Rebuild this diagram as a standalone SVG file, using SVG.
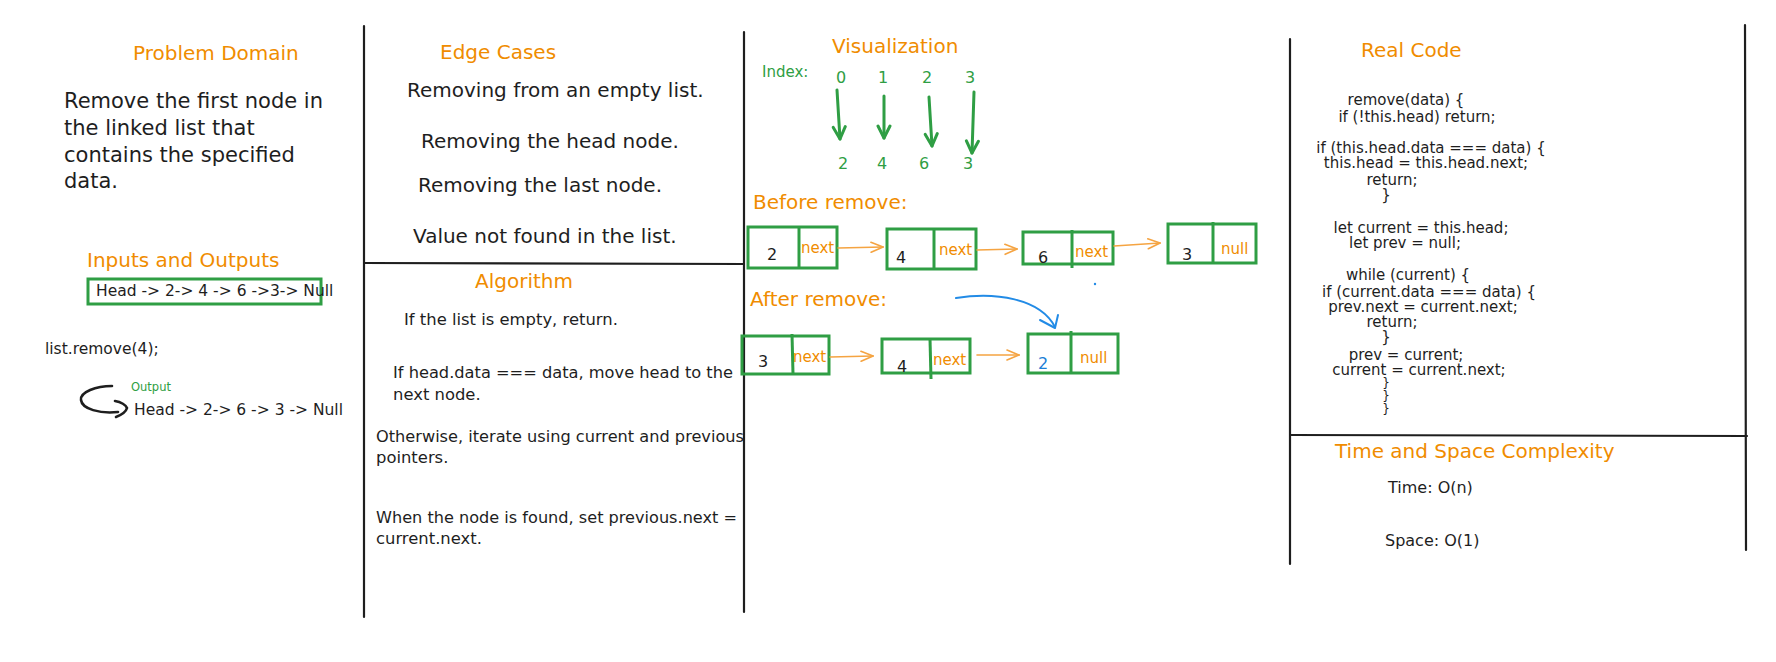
<svg xmlns="http://www.w3.org/2000/svg" width="1776" height="662" viewBox="0 0 1776 662">
<defs>
<style>
text{font-family:"DejaVu Sans","Liberation Sans",sans-serif;fill:#1e1e1e}
.title{font-size:20px;fill:#f08c00}
.body{font-size:20px}
.pd{font-size:21px}
.alg{font-size:16.4px}
.small{font-size:15.5px}
.code{font-size:15px;text-anchor:middle}
.brace{font-size:12px;text-anchor:middle}
.green{fill:#2f9e44}
.divider{stroke:#1e1e1e;stroke-width:2.2;fill:none;stroke-linecap:round}
.box{stroke:#2f9e44;stroke-width:3;fill:none}
.garrow{stroke:#2f9e44;stroke-width:3;fill:none;stroke-linecap:round}
.oarrow{stroke:#f5a442;stroke-width:1.6;fill:none;stroke-linecap:round}
.num{font-size:16px}
.ptr{font-size:15px;fill:#f08c00}
</style>
<marker id="mg" viewBox="0 0 16 16" refX="14" refY="8" markerWidth="16" markerHeight="16" markerUnits="userSpaceOnUse" orient="auto">
<path d="M2,2 L14,8 L2,14" fill="none" stroke="#2f9e44" stroke-width="3" stroke-linecap="round" stroke-linejoin="round"/>
</marker>
<marker id="mo" viewBox="0 0 14 14" refX="13" refY="7" markerWidth="14" markerHeight="14" markerUnits="userSpaceOnUse" orient="auto">
<path d="M1,2 L13,7 L1,12" fill="none" stroke="#f5a442" stroke-width="1.6" stroke-linecap="round"/>
</marker>
</defs>
<rect width="1776" height="662" fill="#ffffff"/>

<g id="frame">
<line class="divider" x1="364" y1="26" x2="364" y2="617"/>
<line class="divider" x1="744" y1="32" x2="744" y2="612"/>
<line class="divider" x1="1290" y1="39" x2="1290" y2="564"/>
<line class="divider" x1="1745" y1="25" x2="1746" y2="550"/>
<line class="divider" x1="364" y1="263" x2="744" y2="264"/>
<line class="divider" x1="1290" y1="435" x2="1747" y2="436"/>
</g>

<g id="problem-domain">
<text class="title" x="133" y="60">Problem Domain</text>
<text class="pd" x="64" y="108">Remove the first node in</text>
<text class="pd" x="64" y="135">the linked list that</text>
<text class="pd" x="64" y="162">contains the specified</text>
<text class="pd" x="64" y="188">data.</text>
</g>

<g id="inputs-outputs">
<text class="title" x="87" y="267" font-size="21.5">Inputs and Outputs</text>
<rect class="box" x="88" y="279" width="233" height="25" stroke-width="2.2"/>
<text class="small" x="96" y="296">Head -&gt; 2-&gt; 4 -&gt; 6 -&gt;3-&gt; Null</text>
<text class="small" x="45" y="354">list.remove(4);</text>
<text class="green" x="131" y="391" font-size="11.5">Output</text>
<path d="M112,386 C96,386 80,392 81,400 C82,409 100,414 118,412" fill="none" stroke="#1e1e1e" stroke-width="2.6" stroke-linecap="round"/>
<path d="M115,401 C121,402 126,405 127,408 C126,412 121,415 116,417" fill="none" stroke="#1e1e1e" stroke-width="2.6" stroke-linecap="round"/>
<text class="small" x="134" y="415">Head -&gt; 2-&gt; 6 -&gt; 3 -&gt; Null</text>
</g>

<g id="edge-cases">
<text class="title" x="440" y="59">Edge Cases</text>
<text class="body" x="407" y="97">Removing from an empty list.</text>
<text class="body" x="421" y="148">Removing the head node.</text>
<text class="body" x="418" y="192">Removing the last node.</text>
<text class="body" x="413" y="243">Value not found in the list.</text>
</g>

<g id="algorithm">
<text class="title" x="475" y="288">Algorithm</text>
<text class="alg" x="404" y="325">If the list is empty, return.</text>
<text class="alg" x="393" y="378" textLength="340" lengthAdjust="spacingAndGlyphs">If head.data === data, move head to the</text>
<text class="alg" x="393" y="400">next node.</text>
<text class="alg" x="376" y="442" textLength="368" lengthAdjust="spacingAndGlyphs">Otherwise, iterate using current and previous</text>
<text class="alg" x="376" y="463">pointers.</text>
<text class="alg" x="376" y="523" textLength="361" lengthAdjust="spacingAndGlyphs">When the node is found, set previous.next =</text>
<text class="alg" x="376" y="544">current.next.</text>
</g>

<g id="visualization">
<text class="title" x="832" y="53">Visualization</text>
<text class="green" x="762" y="77" font-size="15">Index:</text>
<g class="num" text-anchor="middle">
<text class="green" x="841" y="83">0</text>
<text class="green" x="883" y="83">1</text>
<text class="green" x="927" y="83">2</text>
<text class="green" x="970" y="83">3</text>
<text class="green" x="843" y="169">2</text>
<text class="green" x="882" y="169">4</text>
<text class="green" x="924" y="169">6</text>
<text class="green" x="968" y="169">3</text>
</g>
</g>

<g id="index-arrows">
<line class="garrow" x1="837" y1="90" x2="840" y2="139" marker-end="url(#mg)"/>
<line class="garrow" x1="884" y1="96" x2="884" y2="138" marker-end="url(#mg)"/>
<line class="garrow" x1="929" y1="97" x2="932" y2="146" marker-end="url(#mg)"/>
<line class="garrow" x1="974" y1="92" x2="972" y2="153" marker-end="url(#mg)"/>
</g>

<g id="before-remove">
<text class="title" x="753" y="209" font-size="18.5">Before remove:</text>
<g id="b-node-2">
<rect class="box" x="748" y="227" width="89" height="41"/>
<line class="box" x1="799" y1="227" x2="799" y2="268"/>
<text class="num" x="767" y="260">2</text>
<text class="ptr" x="801" y="253">next</text>
</g>
<g id="b-node-4">
<rect class="box" x="887" y="229" width="89" height="40"/>
<line class="box" x1="934" y1="229" x2="934" y2="269"/>
<text class="num" x="896" y="263">4</text>
<text class="ptr" x="939" y="255">next</text>
</g>
<g id="b-node-6">
<rect class="box" x="1023" y="232" width="90" height="32"/>
<line class="box" x1="1072" y1="230" x2="1072" y2="268"/>
<text class="num" x="1038" y="263">6</text>
<text class="ptr" x="1075" y="257">next</text>
</g>
<g id="b-node-3">
<rect class="box" x="1168" y="224" width="88" height="39"/>
<line class="box" x1="1213" y1="222" x2="1213" y2="263"/>
<text class="num" x="1182" y="260">3</text>
<text class="ptr" x="1221" y="254">null</text>
</g>
</g>

<g id="after-remove">
<text class="title" x="750" y="306" font-size="18.5">After remove:</text>
<g id="a-node-3">
<rect class="box" x="742" y="336" width="87" height="38"/>
<line class="box" x1="792" y1="334" x2="793" y2="374"/>
<text class="num" x="758" y="367">3</text>
<text class="ptr" x="793" y="362">next</text>
</g>
<g id="a-node-4">
<rect class="box" x="882" y="339" width="88" height="34"/>
<line class="box" x1="930" y1="339" x2="931" y2="379"/>
<text class="num" x="897" y="372">4</text>
<text class="ptr" x="933" y="365">next</text>
</g>
<g id="a-node-2">
<rect class="box" x="1028" y="334" width="90" height="39"/>
<line class="box" x1="1071" y1="331" x2="1071" y2="373"/>
<text class="num" x="1038" y="369" style="fill:#1c7ed6">2</text>
<text class="ptr" x="1080" y="363">null</text>
</g>
</g>

<g id="connectors">
<line class="oarrow" x1="838" y1="248" x2="883" y2="247" marker-end="url(#mo)"/>
<line class="oarrow" x1="977" y1="250" x2="1017" y2="249" marker-end="url(#mo)"/>
<line class="oarrow" x1="1114" y1="246" x2="1160" y2="243" marker-end="url(#mo)"/>
<line class="oarrow" x1="830" y1="357" x2="873" y2="356" marker-end="url(#mo)"/>
<line class="oarrow" x1="977" y1="355" x2="1019" y2="355" marker-end="url(#mo)"/>
<path d="M956,298 C995,292 1040,298 1055,327" fill="none" stroke="#228be6" stroke-width="2" stroke-linecap="round"/>
<path d="M1040,320 L1055,328 L1058,315" fill="none" stroke="#228be6" stroke-width="2" stroke-linecap="round" stroke-linejoin="round"/>
<circle cx="1095" cy="284" r="1.2" fill="#228be6"/>
</g>

<g id="real-code">
<text class="title" x="1361" y="57">Real Code</text>
<text class="code" x="1406" y="105">remove(data) {</text>
<text class="code" x="1417" y="122">if (!this.head) return;</text>
<text class="code" x="1431" y="153">if (this.head.data === data) {</text>
<text class="code" x="1426" y="168">this.head = this.head.next;</text>
<text class="code" x="1392" y="185">return;</text>
<text class="code" x="1386" y="200">}</text>
<text class="code" x="1421" y="233">let current = this.head;</text>
<text class="code" x="1405" y="248">let prev = null;</text>
<text class="code" x="1408" y="280">while (current) {</text>
<text class="code" x="1429" y="297">if (current.data === data) {</text>
<text class="code" x="1423" y="312">prev.next = current.next;</text>
<text class="code" x="1392" y="327">return;</text>
<text class="code" x="1386" y="342">}</text>
<text class="code" x="1406" y="360">prev = current;</text>
<text class="code" x="1419" y="375">current = current.next;</text>
<text class="brace" x="1386" y="387">}</text>
<text class="brace" x="1386" y="400">}</text>
<text class="brace" x="1386" y="413">}</text>
</g>

<g id="complexity">
<text class="title" x="1335" y="458">Time and Space Complexity</text>
<text x="1388" y="493" font-size="16">Time: O(n)</text>
<text x="1385" y="546" font-size="16">Space: O(1)</text>
</g>
</svg>
